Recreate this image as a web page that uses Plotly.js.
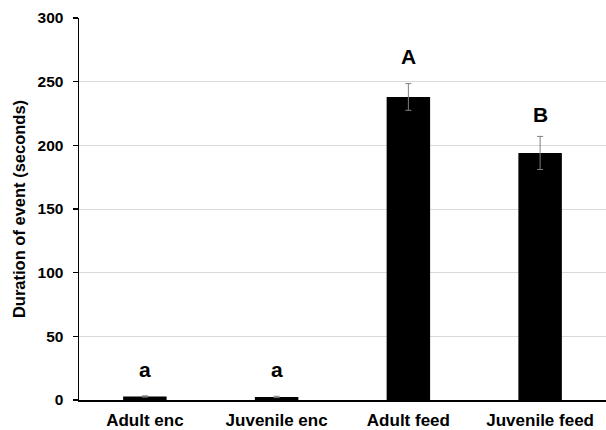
<!DOCTYPE html>
<html>
<head>
<meta charset="utf-8">
<script src="https://cdn.plot.ly/plotly-3.0.1.min.js"></script>
<style>html,body{margin:0;padding:0;background:#fff;}#chart{width:606px;height:430px;}</style>
</head>
<body>
<div id="chart"></div>
<script>
const categories = ["Adult enc", "Juvenile enc", "Adult feed", "Juvenile feed"];
const durations = [2.8, 2.4, 238, 194];
const errors = [0.5, 0.5, 10.5, 13];
const letters = ["a", "a", "A", "B"];
const letterY = [24, 24, 270, 224];
const yTicks = [0, 50, 100, 150, 200, 250, 300];

const font = "Arial, 'Liberation Sans', sans-serif";

const trace = {
  type: "bar",
  x: categories,
  y: durations,
  marker: {color: "#000000"},
  error_y: {type: "data", array: errors, visible: true, color: "#7f7f7f", thickness: 1, width: 3},
  hoverinfo: "x+y"
};

const annotations = categories.map((c, i) => ({
  x: c, y: letterY[i], xref: "x", yref: "y",
  text: letters[i], showarrow: false, yanchor: "middle",
  font: {family: font, size: 21, color: "#000", weight: "bold"}
}));

const layout = {
  width: 606, height: 430,
  margin: {l: 79, r: 0, t: 18, b: 30},
  paper_bgcolor: "#fff", plot_bgcolor: "#fff",
  bargap: 0.67,
  showlegend: false,
  font: {family: font, color: "#000"},
  xaxis: {
    type: "category",
    showline: true, linecolor: "#000", linewidth: 1.5,
    ticks: "", showgrid: false,
    tickfont: {family: font, size: 17, color: "#000", weight: "bold"},
    ticklabelstandoff: 4
  },
  yaxis: {
    range: [0, 300],
    tickvals: yTicks,
    showline: true, linecolor: "#000", linewidth: 1.5,
    ticks: "outside", ticklen: 5, tickcolor: "#000", tickwidth: 1.5,
    showgrid: true, gridcolor: "#d9d9d9", gridwidth: 1,
    zeroline: false,
    tickfont: {family: font, size: 15.5, color: "#000", weight: "bold"},
    ticklabelstandoff: 6,
    title: {text: "Duration of event (seconds)", standoff: 8,
            font: {family: font, size: 16.5, color: "#000", weight: "bold"}}
  },
  annotations: annotations
};

Plotly.newPlot("chart", [trace], layout, {displayModeBar: false, staticPlot: true});
</script>
</body>
</html>
